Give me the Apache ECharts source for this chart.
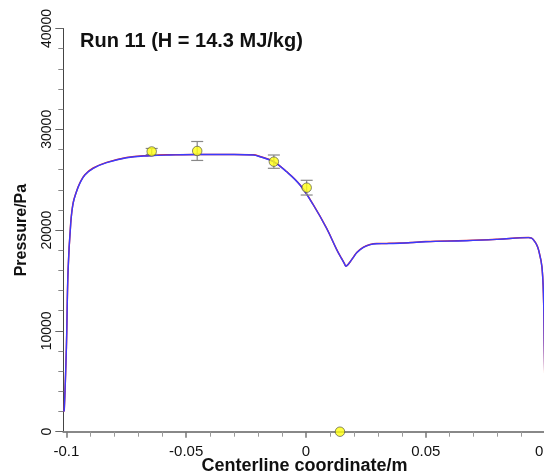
<!DOCTYPE html>
<html>
<head>
<meta charset="utf-8">
<script src="https://cdn.jsdelivr.net/npm/echarts@6/dist/echarts.min.js"></script>
<style>
html,body{margin:0;padding:0;background:#fff;}
#c{width:544px;height:475px;}
</style>
</head>
<body>
<div id="c"></div>
<script>
// Centerline coordinate (m) for the computed curves
const curveX = [-0.1012, -0.1009, -0.1, -0.0993, -0.0982, -0.0972, -0.0958, -0.0944, -0.0923, -0.0888,
  -0.0832, -0.0749, -0.0651, -0.0568, -0.045, -0.03, -0.022, -0.0192, -0.0136, -0.0081,
  -0.0025, 0.0031, 0.0086, 0.0128, 0.0148, 0.016, 0.0167, 0.0175, 0.0186, 0.0198,
  0.0213, 0.024, 0.0268, 0.0295, 0.0337, 0.0392, 0.0434, 0.05, 0.0671, 0.08,
  0.0929, 0.0942, 0.095, 0.0962, 0.0971, 0.0985, 0.0992, 0.0995, 0.1];
// Pressure (Pa), blue curve
const bluePressure = [2000, 2150, 8430, 16040, 20670, 22660, 23810, 24640, 25470, 26130,
  26690, 27180, 27380, 27450, 27500, 27500, 27450, 27280, 26790, 25790,
  24470, 22490, 20180, 18080, 17200, 16700, 16420, 16560, 16900, 17300,
  17780, 18290, 18560, 18650, 18660, 18700, 18750, 18850, 18950, 19080,
  19250, 19200, 19020, 18600, 18030, 16370, 13070, 8430, 1000];
// Pressure (Pa), red curve (almost coincident with blue)
const redPressure = [2000, 2150, 8430, 16040, 20690, 22690, 23840, 24670, 25500, 26160,
  26720, 27210, 27400, 27470, 27510, 27510, 27470, 27300, 26810, 25810,
  24490, 22500, 20190, 18090, 17210, 16710, 16430, 16570, 16910, 17320,
  17800, 18310, 18580, 18670, 18680, 18710, 18760, 18860, 18960, 19090,
  19260, 19210, 19030, 18610, 18040, 16380, 13080, 8440, 1000];
// Measured points
const measX = [-0.0644, -0.0454, -0.0134, 0.0003, 0.0142];
const measP = [27800, 27850, 26790, 24210, 0];
const measErr = [300, 940, 660, 730, 0];
// Axis ticks
const xMajorTicks = [-0.1, -0.05, 0, 0.05, 0.1];
const xMinorTicks = [-0.09, -0.08, -0.07, -0.06, -0.04, -0.03, -0.02, -0.01,
  0.01, 0.02, 0.03, 0.04, 0.06, 0.07, 0.08, 0.09];

const FONT = 'Liberation Sans, Arial, Helvetica, sans-serif';
const blueData = curveX.map((x, i) => [x, bluePressure[i]]);
const redData = curveX.map((x, i) => [x, redPressure[i]]);
const pts = measX.map((x, i) => [x, measP[i]]);
const errData = measX.map((x, i) => [x, measP[i] - measErr[i], measP[i] + measErr[i]]).filter((d, i) => measErr[i] > 0);

const chart = echarts.init(document.getElementById('c'), null, {renderer: 'canvas'});
chart.setOption({
  animation: false,
  backgroundColor: '#fff',
  textStyle: {fontFamily: FONT},
  title: {
    text: 'Run 11 (H = 14.3 MJ/kg)',
    left: 75, top: 26,
    textStyle: {fontFamily: FONT, fontSize: 20, fontWeight: 'bold', color: '#111'}
  },
  grid: {left: 63.3, right: -1.5, top: 28.5, bottom: 43.3, containLabel: false, outerBoundsMode: 'none'},
  xAxis: [{
    type: 'value', min: -0.1013, max: 0.1,
    position: 'bottom',
    name: 'Centerline coordinate/m', nameLocation: 'middle', nameGap: 25, nameMoveOverlap: false,
    nameTextStyle: {fontFamily: FONT, fontSize: 18, fontWeight: 'bold', color: '#111'},
    axisLine: {onZero: false, lineStyle: {color: '#888', width: 2}},
    axisTick: {show: true, customValues: xMajorTicks, length: 6, lineStyle: {color: '#777', width: 1.5}},
    axisLabel: {customValues: xMajorTicks, fontFamily: FONT, fontSize: 15, color: '#111', margin: 13,
      formatter: v => String(v), hideOverlap: false},
    splitLine: {show: false}
  }, {
    type: 'value', min: -0.1013, max: 0.1,
    position: 'bottom',
    axisLine: {show: false, onZero: false},
    axisTick: {show: true, customValues: xMinorTicks, length: 5, lineStyle: {color: '#999', width: 1}},
    axisLabel: {show: false},
    splitLine: {show: false}
  }],
  yAxis: {
    type: 'value', min: 0, max: 40000, interval: 10000,
    name: 'Pressure/Pa', nameLocation: 'middle', nameGap: 34, nameMoveOverlap: false,
    nameTextStyle: {fontFamily: FONT, fontSize: 16, fontWeight: 'bold', color: '#111'},
    axisLine: {show: true, onZero: false, lineStyle: {color: '#444', width: 1}},
    axisTick: {show: true, length: 8, lineStyle: {color: '#666'}},
    minorTick: {show: true, splitNumber: 5, length: 5, lineStyle: {color: '#888'}},
    axisLabel: {rotate: 90, fontFamily: FONT, fontSize: 14, color: '#111', margin: 9,
      formatter: v => String(v)},
    splitLine: {show: false}
  },
  series: [
    {
      type: 'line', data: redData, showSymbol: false, smooth: 0.4,
      lineStyle: {color: '#e02828', width: 1.5}, z: 2
    },
    {
      type: 'line', data: blueData, showSymbol: false, smooth: 0.4,
      lineStyle: {color: '#3a3aff', width: 1.4}, z: 3
    },
    {
      type: 'custom', data: errData, z: 4,
      renderItem: function (params, api) {
        const x = api.value(0);
        const lo = api.coord([x, api.value(1)]);
        const hi = api.coord([x, api.value(2)]);
        const w = 6;
        const st = {stroke: '#888', lineWidth: 1.2};
        return {type: 'group', children: [
          {type: 'line', shape: {x1: lo[0], y1: lo[1], x2: hi[0], y2: hi[1]}, style: st},
          {type: 'line', shape: {x1: lo[0] - w, y1: lo[1], x2: lo[0] + w, y2: lo[1]}, style: st},
          {type: 'line', shape: {x1: hi[0] - w, y1: hi[1], x2: hi[0] + w, y2: hi[1]}, style: st}
        ]};
      }
    },
    {
      type: 'scatter', data: pts, symbol: 'circle', symbolSize: 9.5, clip: false, z: 5,
      itemStyle: {color: '#ffff10', borderColor: '#444', borderWidth: 0.8}
    }
  ]
});
</script>
</body>
</html>
